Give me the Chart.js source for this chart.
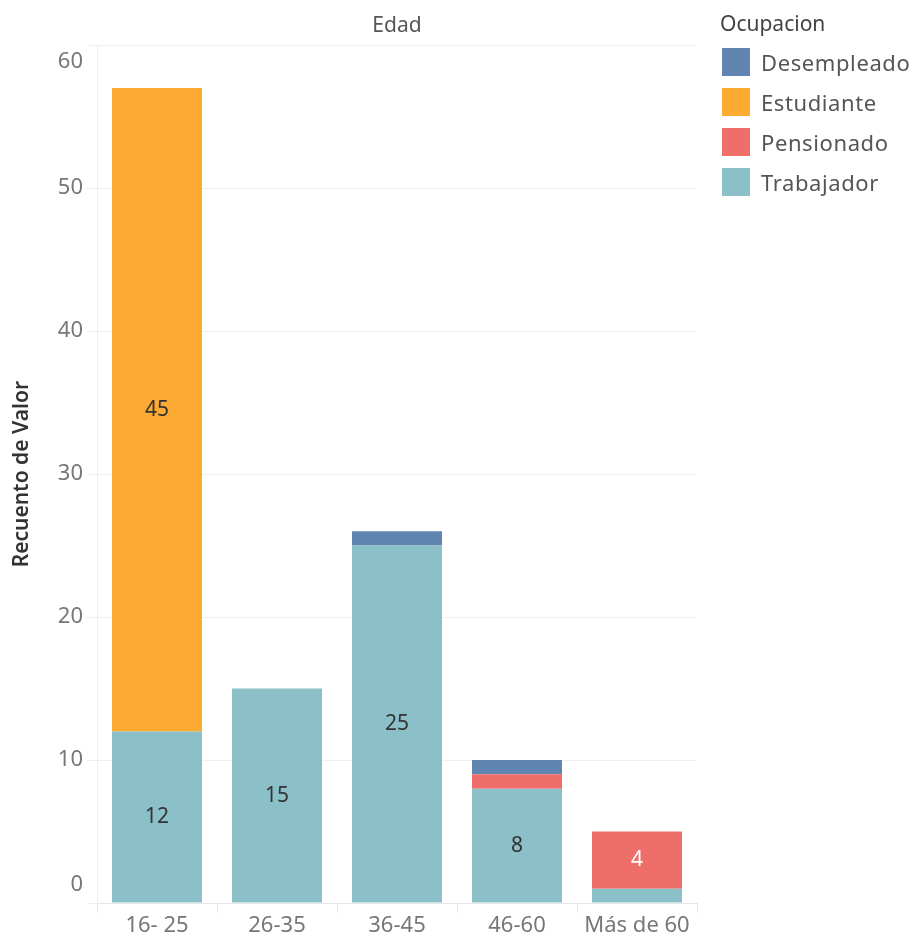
<!DOCTYPE html>
<html>
<head>
<meta charset="utf-8">
<script src="https://cdn.jsdelivr.net/npm/chart.js@4.4.1/dist/chart.umd.min.js"></script>
<style>
  html, body { margin: 0; padding: 0; background: #fff; }
  #wrap { position: relative; width: 918px; height: 935px; }
  #legend {
    position: absolute; left: 720px; top: 9px;
    font-family: "Noto Sans", sans-serif; color: #555;
  }
  #legend .title { font-size: 21px; color: #444; margin-bottom: 5px; }
  #legend .item {
    display: flex; align-items: center; height: 40px;
    font-size: 22px; letter-spacing: 0.6px;
  }
  #legend .box { width: 28px; height: 28px; margin: 0 11px 0 2px; }
</style>
</head>
<body>
<div id="wrap">
  <canvas id="chart" width="918" height="935"></canvas>
  <div id="legend"></div>
</div>
<script>
// Age groups and counts per occupation
const ageGroups = ['16- 25', '26-35', '36-45', '46-60', 'Más de 60'];
const trabajador = [12, 15, 25, 8, 1];
const pensionado = [0, 0, 0, 1, 4];
const estudiante = [45, 0, 0, 0, 0];
const desempleado = [0, 0, 1, 1, 0];
const yTicks = [0, 10, 20, 30, 40, 50, 60];

const colors = {
  Desempleado: '#6085b0',
  Estudiante: '#fcaa32',
  Pensionado: '#ee6e69',
  Trabajador: '#8bc0c8'
};

const font = '"Noto Sans", sans-serif';

// stacked bottom-to-top
const datasets = [
  { label: 'Trabajador', data: trabajador, labelColor: '#333' },
  { label: 'Pensionado', data: pensionado, labelColor: '#fff' },
  { label: 'Estudiante', data: estudiante, labelColor: '#333' },
  { label: 'Desempleado', data: desempleado, labelColor: '#fff' }
].map(d => ({
  ...d,
  backgroundColor: colors[d.label],
  categoryPercentage: 1,
  barPercentage: 0.75
}));

// Write segment values inside the bars (only segments bigger than 1)
const segmentLabels = {
  id: 'segmentLabels',
  afterDatasetsDraw(chart) {
    const ctx = chart.ctx;
    ctx.save();
    ctx.font = '21px ' + font;
    ctx.textAlign = 'center';
    ctx.textBaseline = 'middle';
    chart.data.datasets.forEach((ds, i) => {
      const meta = chart.getDatasetMeta(i);
      meta.data.forEach((bar, j) => {
        const v = ds.data[j];
        if (v > 1) {
          ctx.fillStyle = ds.labelColor;
          ctx.fillText(String(v), bar.x, (bar.y + bar.base) / 2);
        }
      });
    });
    ctx.restore();
  }
};

// Y tick labels; the end labels are nudged inside the plot height
const yLabels = {
  id: 'yLabels',
  afterDraw(chart) {
    const ctx = chart.ctx;
    const y = chart.scales.y;
    ctx.save();
    ctx.font = '22px ' + font;
    ctx.fillStyle = '#777';
    ctx.textAlign = 'right';
    ctx.textBaseline = 'middle';
    yTicks.forEach(v => {
      let py = y.getPixelForValue(v);
      if (v === y.max) py += 17;
      if (v === y.min) py -= 18;
      ctx.fillText(String(v), y.right - 14, py);
    });
    ctx.restore();
  }
};

new Chart(document.getElementById('chart'), {
  type: 'bar',
  data: { labels: ageGroups, datasets },
  options: {
    responsive: false,
    animation: false,
    layout: { padding: { top: 0, right: 221, left: 0, bottom: 0 } },
    plugins: {
      legend: { display: false },
      tooltip: { enabled: false },
      title: {
        display: true,
        text: 'Edad',
        fullSize: false,
        color: '#555',
        font: { family: font, size: 21, weight: 'normal' },
        padding: { top: 13, bottom: 7 }
      }
    },
    scales: {
      x: {
        stacked: true,
        grid: {
          offset: true,
          drawOnChartArea: false,
          tickLength: 10,
          color: '#e6e6e6'
        },
        border: { color: '#e6e6e6' },
        ticks: { color: '#777', font: { family: font, size: 22 }, padding: 0 },
        afterFit(scale) { scale.height = 32; }
      },
      y: {
        stacked: true,
        min: 0,
        max: 60,
        afterBuildTicks(scale) { scale.ticks = yTicks.map(v => ({ value: v })); },
        grid: { color: '#efefef', tickLength: 10 },
        border: { color: '#efefef' },
        ticks: { display: false },
        title: {
          display: true,
          text: 'Recuento de Valor',
          color: '#333',
          font: { family: font, size: 21, weight: 600 },
          padding: { top: 9, bottom: 0 }
        },
        afterFit(scale) { scale.width = 97; }
      }
    }
  },
  plugins: [segmentLabels, yLabels]
});

// Legend, top to bottom
const legend = document.getElementById('legend');
legend.innerHTML = '<div class="title">Ocupacion</div>' +
  ['Desempleado', 'Estudiante', 'Pensionado', 'Trabajador'].map(name =>
    `<div class="item"><span class="box" style="background:${colors[name]}"></span>${name}</div>`
  ).join('');
</script>
</body>
</html>
